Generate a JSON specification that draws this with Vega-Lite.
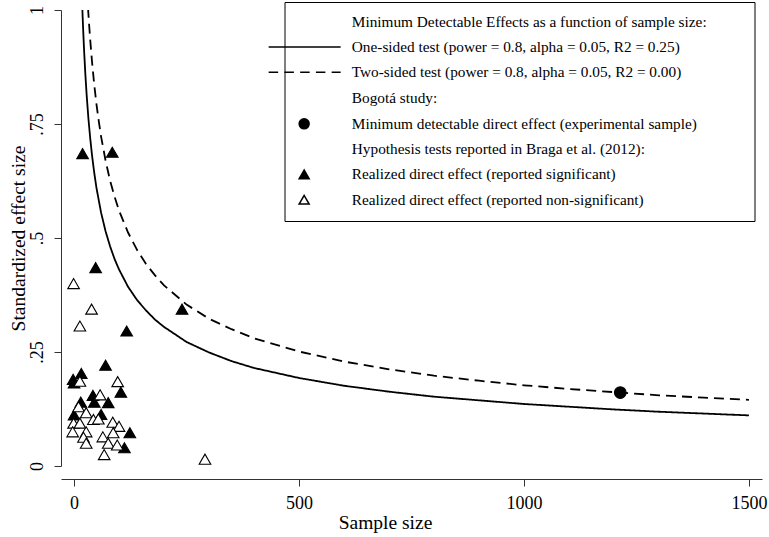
{
  "$schema": "https://vega.github.io/schema/vega-lite/v6.json",
  "autosize": {"type": "none"},
  "padding": {"left": 61, "top": 10, "right": 7, "bottom": 71},
  "width": 701,
  "height": 456,
  "background": "white",
  "config": {
    "view": {"stroke": null},
    "axis": {
      "labelFont": "Liberation Serif",
      "titleFont": "Liberation Serif",
      "labelFontSize": 18,
      "titleFontSize": 19.5,
      "titleFontWeight": "normal",
      "labelColor": "black",
      "titleColor": "black",
      "domainColor": "#333",
      "tickColor": "#333",
      "tickSize": 7,
      "grid": false
    }
  },
  "datasets": {
    "curves": [
      {"n": 17, "mde": 1.045, "test": "One-sided"},
      {"n": 18, "mde": 1.015, "test": "One-sided"},
      {"n": 19, "mde": 0.988, "test": "One-sided"},
      {"n": 20, "mde": 0.963, "test": "One-sided"},
      {"n": 22, "mde": 0.918, "test": "One-sided"},
      {"n": 25, "mde": 0.861, "test": "One-sided"},
      {"n": 28, "mde": 0.814, "test": "One-sided"},
      {"n": 32, "mde": 0.761, "test": "One-sided"},
      {"n": 36, "mde": 0.718, "test": "One-sided"},
      {"n": 40, "mde": 0.681, "test": "One-sided"},
      {"n": 45, "mde": 0.642, "test": "One-sided"},
      {"n": 50, "mde": 0.609, "test": "One-sided"},
      {"n": 60, "mde": 0.556, "test": "One-sided"},
      {"n": 70, "mde": 0.515, "test": "One-sided"},
      {"n": 80, "mde": 0.482, "test": "One-sided"},
      {"n": 90, "mde": 0.454, "test": "One-sided"},
      {"n": 100, "mde": 0.431, "test": "One-sided"},
      {"n": 120, "mde": 0.393, "test": "One-sided"},
      {"n": 140, "mde": 0.364, "test": "One-sided"},
      {"n": 160, "mde": 0.341, "test": "One-sided"},
      {"n": 180, "mde": 0.321, "test": "One-sided"},
      {"n": 200, "mde": 0.305, "test": "One-sided"},
      {"n": 250, "mde": 0.272, "test": "One-sided"},
      {"n": 300, "mde": 0.249, "test": "One-sided"},
      {"n": 350, "mde": 0.230, "test": "One-sided"},
      {"n": 400, "mde": 0.215, "test": "One-sided"},
      {"n": 500, "mde": 0.193, "test": "One-sided"},
      {"n": 600, "mde": 0.176, "test": "One-sided"},
      {"n": 700, "mde": 0.163, "test": "One-sided"},
      {"n": 800, "mde": 0.152, "test": "One-sided"},
      {"n": 900, "mde": 0.144, "test": "One-sided"},
      {"n": 1000, "mde": 0.136, "test": "One-sided"},
      {"n": 1100, "mde": 0.130, "test": "One-sided"},
      {"n": 1200, "mde": 0.124, "test": "One-sided"},
      {"n": 1300, "mde": 0.119, "test": "One-sided"},
      {"n": 1400, "mde": 0.115, "test": "One-sided"},
      {"n": 1500, "mde": 0.111, "test": "One-sided"},
      {"n": 29, "mde": 1.040, "test": "Two-sided"},
      {"n": 30, "mde": 1.023, "test": "Two-sided"},
      {"n": 32, "mde": 0.990, "test": "Two-sided"},
      {"n": 34, "mde": 0.961, "test": "Two-sided"},
      {"n": 36, "mde": 0.934, "test": "Two-sided"},
      {"n": 40, "mde": 0.886, "test": "Two-sided"},
      {"n": 45, "mde": 0.835, "test": "Two-sided"},
      {"n": 50, "mde": 0.792, "test": "Two-sided"},
      {"n": 55, "mde": 0.756, "test": "Two-sided"},
      {"n": 60, "mde": 0.723, "test": "Two-sided"},
      {"n": 70, "mde": 0.670, "test": "Two-sided"},
      {"n": 80, "mde": 0.626, "test": "Two-sided"},
      {"n": 90, "mde": 0.591, "test": "Two-sided"},
      {"n": 100, "mde": 0.560, "test": "Two-sided"},
      {"n": 120, "mde": 0.512, "test": "Two-sided"},
      {"n": 140, "mde": 0.474, "test": "Two-sided"},
      {"n": 160, "mde": 0.443, "test": "Two-sided"},
      {"n": 180, "mde": 0.418, "test": "Two-sided"},
      {"n": 200, "mde": 0.396, "test": "Two-sided"},
      {"n": 250, "mde": 0.354, "test": "Two-sided"},
      {"n": 300, "mde": 0.323, "test": "Two-sided"},
      {"n": 350, "mde": 0.300, "test": "Two-sided"},
      {"n": 400, "mde": 0.280, "test": "Two-sided"},
      {"n": 500, "mde": 0.251, "test": "Two-sided"},
      {"n": 600, "mde": 0.229, "test": "Two-sided"},
      {"n": 700, "mde": 0.212, "test": "Two-sided"},
      {"n": 800, "mde": 0.198, "test": "Two-sided"},
      {"n": 900, "mde": 0.187, "test": "Two-sided"},
      {"n": 1000, "mde": 0.177, "test": "Two-sided"},
      {"n": 1100, "mde": 0.169, "test": "Two-sided"},
      {"n": 1200, "mde": 0.162, "test": "Two-sided"},
      {"n": 1300, "mde": 0.155, "test": "Two-sided"},
      {"n": 1400, "mde": 0.150, "test": "Two-sided"},
      {"n": 1500, "mde": 0.145, "test": "Two-sided"}
    ],
    "points": [
      {"n": 1214, "effect": 0.161, "key": "Minimum detectable direct effect (experimental sample)"},
      {"n": 19, "effect": 0.685, "key": "Realized direct effect (reported significant)"},
      {"n": 85, "effect": 0.688, "key": "Realized direct effect (reported significant)"},
      {"n": 48, "effect": 0.435, "key": "Realized direct effect (reported significant)"},
      {"n": 117, "effect": 0.296, "key": "Realized direct effect (reported significant)"},
      {"n": 240, "effect": 0.344, "key": "Realized direct effect (reported significant)"},
      {"n": 70, "effect": 0.221, "key": "Realized direct effect (reported significant)"},
      {"n": -2, "effect": 0.190, "key": "Realized direct effect (reported significant)"},
      {"n": 0, "effect": 0.182, "key": "Realized direct effect (reported significant)"},
      {"n": 16, "effect": 0.203, "key": "Realized direct effect (reported significant)"},
      {"n": 104, "effect": 0.162, "key": "Realized direct effect (reported significant)"},
      {"n": 42, "effect": 0.155, "key": "Realized direct effect (reported significant)"},
      {"n": 15, "effect": 0.140, "key": "Realized direct effect (reported significant)"},
      {"n": 45, "effect": 0.140, "key": "Realized direct effect (reported significant)"},
      {"n": 76, "effect": 0.139, "key": "Realized direct effect (reported significant)"},
      {"n": 0, "effect": 0.112, "key": "Realized direct effect (reported significant)"},
      {"n": 60, "effect": 0.113, "key": "Realized direct effect (reported significant)"},
      {"n": 124, "effect": 0.073, "key": "Realized direct effect (reported significant)"},
      {"n": 112, "effect": 0.040, "key": "Realized direct effect (reported significant)"},
      {"n": -1, "effect": 0.400, "key": "Realized direct effect (reported non-significant)"},
      {"n": 39, "effect": 0.344, "key": "Realized direct effect (reported non-significant)"},
      {"n": 13, "effect": 0.307, "key": "Realized direct effect (reported non-significant)"},
      {"n": 13, "effect": 0.186, "key": "Realized direct effect (reported non-significant)"},
      {"n": 97, "effect": 0.185, "key": "Realized direct effect (reported non-significant)"},
      {"n": 58, "effect": 0.156, "key": "Realized direct effect (reported non-significant)"},
      {"n": 10, "effect": 0.130, "key": "Realized direct effect (reported non-significant)"},
      {"n": 27, "effect": 0.117, "key": "Realized direct effect (reported non-significant)"},
      {"n": 43, "effect": 0.102, "key": "Realized direct effect (reported non-significant)"},
      {"n": 54, "effect": 0.103, "key": "Realized direct effect (reported non-significant)"},
      {"n": -1, "effect": 0.094, "key": "Realized direct effect (reported non-significant)"},
      {"n": 13, "effect": 0.094, "key": "Realized direct effect (reported non-significant)"},
      {"n": 86, "effect": 0.096, "key": "Realized direct effect (reported non-significant)"},
      {"n": 100, "effect": 0.087, "key": "Realized direct effect (reported non-significant)"},
      {"n": -3, "effect": 0.075, "key": "Realized direct effect (reported non-significant)"},
      {"n": 27, "effect": 0.075, "key": "Realized direct effect (reported non-significant)"},
      {"n": 87, "effect": 0.073, "key": "Realized direct effect (reported non-significant)"},
      {"n": 64, "effect": 0.064, "key": "Realized direct effect (reported non-significant)"},
      {"n": 21, "effect": 0.063, "key": "Realized direct effect (reported non-significant)"},
      {"n": 27, "effect": 0.050, "key": "Realized direct effect (reported non-significant)"},
      {"n": 76, "effect": 0.050, "key": "Realized direct effect (reported non-significant)"},
      {"n": 96, "effect": 0.046, "key": "Realized direct effect (reported non-significant)"},
      {"n": 67, "effect": 0.025, "key": "Realized direct effect (reported non-significant)"},
      {"n": 291, "effect": 0.015, "key": "Realized direct effect (reported non-significant)"}
    ]
  },
  "layer": [
    {
      "data": {"name": "curves"},
      "mark": {"type": "line", "clip": true, "color": "black", "strokeWidth": 1.8},
      "encoding": {
        "x": {
          "field": "n", "type": "quantitative",
          "scale": {"domain": [-29, 1529], "nice": false, "zero": false},
          "axis": {"values": [0, 500, 1000, 1500], "format": "d", "offset": 13, "title": "Sample size", "labelPadding": 8, "titlePadding": 1, "titleX": 324}
        },
        "y": {
          "field": "mde", "type": "quantitative",
          "scale": {"domain": [0, 1], "nice": false},
          "axis": {"values": [0, 0.25, 0.5, 0.75, 1], "labelAngle": -90, "labelPadding": 8,
                   "labelExpr": "datum.value == 0 ? '0' : datum.value == 1 ? '1' : slice(format(datum.value, '.2~f'), 1)",
                   "title": "Standardized effect size", "titlePadding": 0}
        },
        "strokeDash": {
          "field": "test", "type": "nominal",
          "scale": {"domain": ["One-sided", "Two-sided"], "range": [[1, 0], [10, 6]]},
          "legend": null
        }
      }
    },
    {
      "data": {"name": "points"},
      "mark": {"type": "point", "size": 135, "strokeWidth": 1.1, "opacity": 1},
      "encoding": {
        "x": {"field": "n", "type": "quantitative"},
        "y": {"field": "effect", "type": "quantitative"},
        "shape": {
          "field": "key", "type": "nominal",
          "scale": {
            "domain": ["Minimum Detectable Effects as a function of sample size:", "One-sided test (power = 0.8, alpha = 0.05, R2 = 0.25)", "Two-sided test (power = 0.8, alpha = 0.05, R2 = 0.00)", "Bogotá study:", "Minimum detectable direct effect (experimental sample)", "Hypothesis tests reported in Braga et al. (2012):", "Realized direct effect (reported significant)", "Realized direct effect (reported non-significant)"],
            "range": ["M0,0", "M-7.1,0L7.3,0", "M-7.1,0L-5.2,0M-3.95,0L-2.05,0M-0.8,0L1.1,0M2.35,0L4.25,0M5.5,0L7.3,0", "M0,0", "circle", "M0,0", "triangle-up", "triangle-up"]
          },
          "legend": {"title": null, "orient": "none", "legendX": 223.5, "legendY": -8, "padding": 12, "strokeColor": "black", "fillColor": "white",
                     "labelFont": "Liberation Serif", "labelFontSize": 15.3, "labelColor": "black", "labelLimit": 0, "symbolSize": 100, "symbolStrokeWidth": 1.5,
                     "rowPadding": 9.3, "labelOffset": 40,
                     "labelExpr": "datum.label + '\u2003\u2003\u2009\u200a\u200b'"}
        },
        "fill": {
          "field": "key", "type": "nominal",
          "scale": {
            "domain": ["Minimum Detectable Effects as a function of sample size:", "One-sided test (power = 0.8, alpha = 0.05, R2 = 0.25)", "Two-sided test (power = 0.8, alpha = 0.05, R2 = 0.00)", "Bogotá study:", "Minimum detectable direct effect (experimental sample)", "Hypothesis tests reported in Braga et al. (2012):", "Realized direct effect (reported significant)", "Realized direct effect (reported non-significant)"],
            "range": ["transparent", "transparent", "transparent", "transparent", "black", "transparent", "black", "white"]
          },
          "legend": {"title": null, "orient": "none", "legendX": 223.5, "legendY": -8}
        },
        "stroke": {
          "field": "key", "type": "nominal",
          "scale": {
            "domain": ["Minimum Detectable Effects as a function of sample size:", "One-sided test (power = 0.8, alpha = 0.05, R2 = 0.25)", "Two-sided test (power = 0.8, alpha = 0.05, R2 = 0.00)", "Bogotá study:", "Minimum detectable direct effect (experimental sample)", "Hypothesis tests reported in Braga et al. (2012):", "Realized direct effect (reported significant)", "Realized direct effect (reported non-significant)"],
            "range": ["transparent", "black", "black", "transparent", "black", "transparent", "black", "black"]
          },
          "legend": {"title": null, "orient": "none", "legendX": 223.5, "legendY": -8}
        }
      }
    }
  ]
}
